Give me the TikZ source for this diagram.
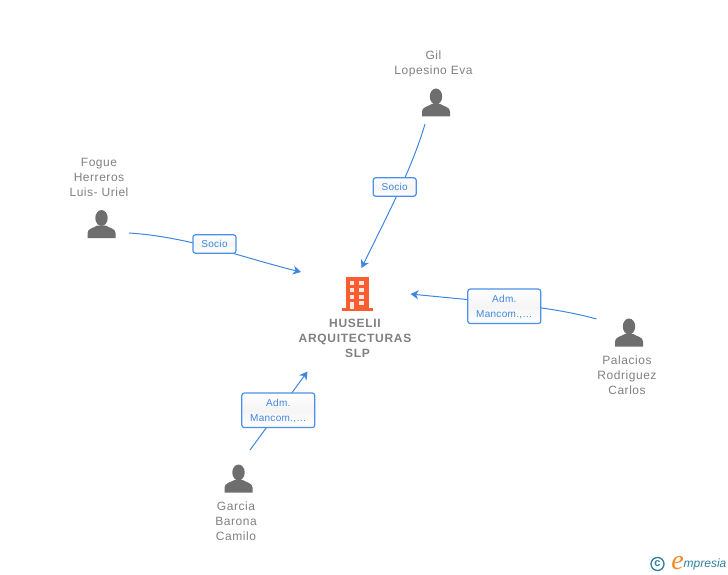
\documentclass[tikz,border=0pt]{standalone}
\usepackage{fontspec}
\setmainfont{Liberation Sans}
\newfontfamily\lblfont[LetterSpace=4.5]{Liberation Sans}
\newfontfamily\boxfont[LetterSpace=3]{Liberation Sans}
\newfontfamily\boldlbl[LetterSpace=6]{Liberation Sans}
\newfontfamily\logofont{Liberation Serif}
\usetikzlibrary{arrows.meta,calc}
\definecolor{txtgray}{HTML}{808080}
\definecolor{icongray}{HTML}{6E6E6E}
\definecolor{linkblue}{HTML}{3F86DF}
\definecolor{boxblue}{HTML}{4A90E6}
\definecolor{orangeb}{HTML}{FA5D2F}
\definecolor{logoteal}{HTML}{2F7F9F}
\definecolor{logoorange}{HTML}{F08A24}
\tikzset{
  x=1pt,y=-1pt,
  personlabel/.style={align=center,text=txtgray,font=\lblfont\fontsize{12}{15}\selectfont,inner sep=0pt},
  orglabel/.style={align=center,text=txtgray,font=\boldlbl\bfseries\fontsize{12}{15}\selectfont,inner sep=0pt},
  linkbox/.style={draw=boxblue,line width=1.2pt,rounded corners=2.5pt,top color=white,bottom color=white,middle color=black!4,
    text=linkblue,font=\boxfont\fontsize{10}{15}\selectfont,align=center,inner sep=0pt},
  link/.style={draw=linkblue,line width=1pt,-{Stealth[length=8pt,width=9pt,inset=2.5pt]}},
  pics/person/.style={code={
    \fill[icongray] (0,-6.5) ellipse (6.2 and 8);
    \fill[icongray] (-14,13.5) -- (-14,8.5) .. controls (-14,4) and (-8,3.5) .. (-4,1) -- (4,1) .. controls (8,3.5) and (14,4) .. (14,8.5) -- (14,13.5) -- cycle;
  }}
}
\begin{document}
\begin{tikzpicture}
\useasboundingbox (0,0) rectangle (728,575);
% connector ends
\coordinate (gilS) at (425,124);
\coordinate (gilE) at (361.5,268);
\coordinate (fogS) at (129,233);
\coordinate (fogE) at (301,272);
\coordinate (palS) at (596.5,319);
\coordinate (palE) at (410.5,294);
\coordinate (garS) at (250,450);
\coordinate (garE) at (307.5,371.5);
% connectors
\draw[link] (gilS) .. controls (412,168) and (390,210) .. (gilE);
\draw[link] (fogS) .. controls (190,237) and (240,257) .. (fogE);
\draw[link] (palS) .. controls (550,306) and (490,302) .. (palE);
\draw[link] (garS) -- (garE);
% connector labels
\node[linkbox,minimum width=43pt,minimum height=18.5pt] (lGil) at (394.7,187) {Socio};
\node[linkbox,minimum width=43pt,minimum height=18.5pt] (lFog) at (214.5,244) {Socio};
\node[linkbox,minimum width=73pt,minimum height=34.5pt] (lPal) at (504.3,306.3) {\rule{0pt}{9pt}Adm.\\Mancom.,\dots};
\node[linkbox,minimum width=73pt,minimum height=34.5pt] (lGar) at (278.3,410.3) {\rule{0pt}{9pt}Adm.\\Mancom.,\dots};
% persons
\pic at (436,103) {person};
\pic at (101.5,224.5) {person};
\pic at (629,333) {person};
\pic at (238.5,479) {person};
\node[personlabel] (nGil) at (433.5,64) {Gil\\Lopesino Eva};
\node[personlabel] (nFog) at (99,177) {Fogue\\Herreros\\Luis- Uriel};
\node[personlabel] (nPal) at (627,375) {Palacios\\Rodriguez\\Carlos};
\node[personlabel] (nGar) at (236,521) {Garcia\\Barona\\Camilo};
% company building
\fill[orangeb] (346,277) rectangle (369,308);
\fill[orangeb] (342,307.5) rectangle (373,311);
\foreach \cx in {349.7,359.3}{\foreach \cy in {281,287.7,295}{
  \fill[white!85!orangeb] (\cx,\cy) rectangle +(4.6,4.4);}}
\fill[white!85!orangeb] (349.7,301.5) rectangle (354.3,309);
\fill[white!85!orangeb] (359.3,301) rectangle (363.9,305.2);
\node[orglabel] (org) at (355,338) {HUSELII\\ARQUITECTURAS\\\hspace*{5pt}SLP};
% logo
\draw[logoteal,line width=1.3pt] (657.5,564) circle (6.5);
\node[text=logoteal,font=\fontsize{11}{11}\selectfont\bfseries,inner sep=0pt] (copy) at (657.5,563.5) {c};
\node[text=logoorange,font=\logofont\itshape\fontsize{28}{28}\selectfont,inner sep=0pt] (logoE) at (677.5,563) {e};
\node[text=logoteal,font=\itshape\fontsize{12}{14}\selectfont,inner sep=0pt,anchor=west] (logoT) at (683.5,564.5) {mpresia};
\end{tikzpicture}
\end{document}
